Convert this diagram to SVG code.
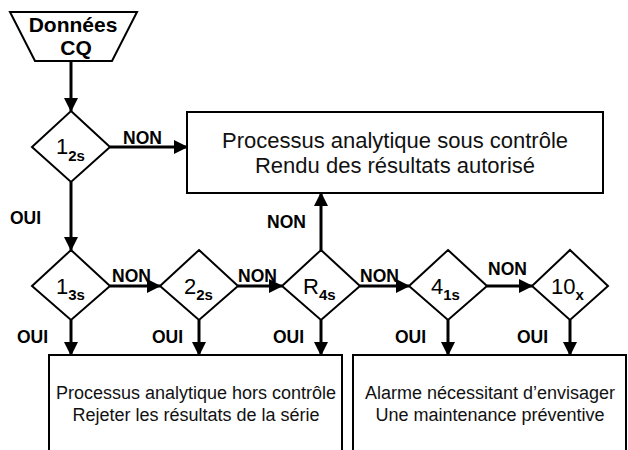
<svg xmlns="http://www.w3.org/2000/svg" width="628" height="450" viewBox="0 0 628 450">
<style>
.shape{fill:#fff;stroke:#000;stroke-width:2}
.conn{stroke:#000;stroke-width:3;fill:none}
.lbl{font-family:"Liberation Sans",Arial,sans-serif;font-weight:bold;font-size:17.5px;fill:#000}
.big{font-family:"Liberation Sans",Arial,sans-serif;font-weight:bold;font-size:21px;fill:#000;text-anchor:middle}
.dtxt{font-family:"Liberation Sans",Arial,sans-serif;font-size:22px;fill:#000}
.sub{font-weight:bold;font-size:15px}
.box1{font-family:"Liberation Sans",Arial,sans-serif;font-size:22px;fill:#111;text-anchor:middle}
.box2{font-family:"Liberation Sans",Arial,sans-serif;font-size:18px;fill:#111;text-anchor:middle}
</style>
<defs>
<marker id="ah" markerUnits="userSpaceOnUse" markerWidth="14" markerHeight="14" refX="13" refY="7" orient="auto">
<path d="M0,0 L14,7 L0,14 z" fill="#000"/>
</marker>
</defs>
<g id="start">
<polygon class="shape" points="10,12 137,12 112,61 35,61"/>
<text class="big" x="73" y="32">Données</text>
<text class="big" x="76" y="55">CQ</text>
</g>
<g id="d12s">
<polygon class="shape" points="71,111 110,147 71,182 32,147"/>
<text class="dtxt" x="56" y="154">1<tspan class="sub" dy="7">2s</tspan></text>
</g>
<g id="boxOK">
<rect class="shape" x="187" y="112" width="416" height="81"/>
<text class="box1" x="395" y="148">Processus analytique sous contrôle</text>
<text class="box1" x="395" y="173">Rendu des résultats autorisé</text>
</g>
<g id="d13s">
<polygon class="shape" points="71,250 110,286 71,320 32,286"/>
<text class="dtxt" x="56" y="294">1<tspan class="sub" dy="6">3s</tspan></text>
</g>
<g id="d22s">
<polygon class="shape" points="199,250 238,286 199,320 160,286"/>
<text class="dtxt" x="184" y="294">2<tspan class="sub" dy="6">2s</tspan></text>
</g>
<g id="dR4s">
<polygon class="shape" points="321,250 360,286 321,320 282,286"/>
<text class="dtxt" x="303" y="294">R<tspan class="sub" dy="6">4s</tspan></text>
</g>
<g id="d41s">
<polygon class="shape" points="448,250 487,286 448,320 409,286"/>
<text class="dtxt" x="431" y="294">4<tspan class="sub" dy="6">1s</tspan></text>
</g>
<g id="d10x">
<polygon class="shape" points="570,250 608,286 570,320 532,286"/>
<text class="dtxt" x="551" y="294">10<tspan class="sub" dy="6">x</tspan></text>
</g>
<g id="boxReject">
<path class="shape" d="M49,452 V355 H342 V452"/>
<text class="box2" x="196" y="399">Processus analytique hors contrôle</text>
<text class="box2" x="196" y="421">Rejeter les résultats de la série</text>
</g>
<g id="boxAlarm">
<path class="shape" d="M353,452 V355 H626 V452"/>
<text class="box2" x="490" y="399">Alarme nécessitant d’envisager</text>
<text class="box2" x="490" y="421">Une maintenance préventive</text>
</g>
<g id="connectors">
<line class="conn" x1="71" y1="61" x2="71" y2="111" marker-end="url(#ah)"/>
<line class="conn" x1="110" y1="147" x2="187" y2="147" marker-end="url(#ah)"/>
<line class="conn" x1="71" y1="182" x2="71" y2="250" marker-end="url(#ah)"/>
<line class="conn" x1="110" y1="286" x2="160" y2="286" marker-end="url(#ah)"/>
<line class="conn" x1="238" y1="286" x2="282" y2="286" marker-end="url(#ah)"/>
<line class="conn" x1="321" y1="250" x2="321" y2="193" marker-end="url(#ah)"/>
<line class="conn" x1="360" y1="286" x2="409" y2="286" marker-end="url(#ah)"/>
<line class="conn" x1="487" y1="286" x2="532" y2="286" marker-end="url(#ah)"/>
<line class="conn" x1="71" y1="320" x2="71" y2="355" marker-end="url(#ah)"/>
<line class="conn" x1="199" y1="320" x2="199" y2="355" marker-end="url(#ah)"/>
<line class="conn" x1="321" y1="320" x2="321" y2="355" marker-end="url(#ah)"/>
<line class="conn" x1="448" y1="320" x2="448" y2="355" marker-end="url(#ah)"/>
<line class="conn" x1="570" y1="320" x2="570" y2="355" marker-end="url(#ah)"/>
<text class="lbl" x="123" y="144">NON</text>
<text class="lbl" x="10" y="224">OUI</text>
<text class="lbl" x="267" y="228">NON</text>
<text class="lbl" x="112" y="282">NON</text>
<text class="lbl" x="238" y="282">NON</text>
<text class="lbl" x="360" y="282">NON</text>
<text class="lbl" x="488" y="275">NON</text>
<text class="lbl" x="17" y="343">OUI</text>
<text class="lbl" x="152" y="343">OUI</text>
<text class="lbl" x="273" y="343">OUI</text>
<text class="lbl" x="395" y="343">OUI</text>
<text class="lbl" x="517" y="343">OUI</text>
</g>
</svg>
